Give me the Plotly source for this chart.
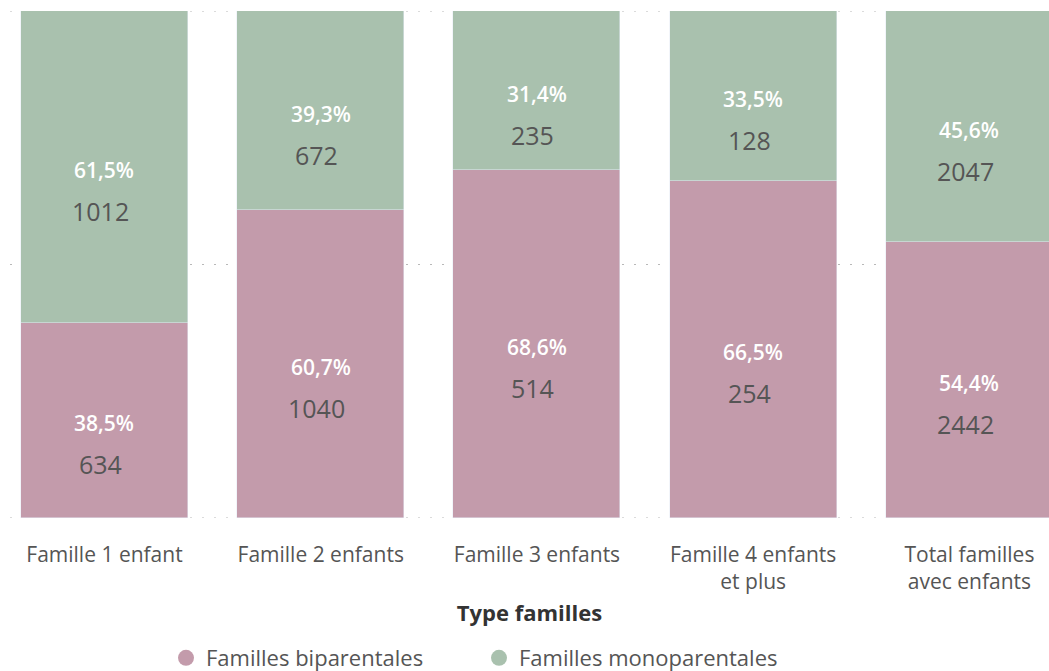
import plotly.graph_objects as go

categories = ["Famille 1 enfant", "Famille 2 enfants", "Famille 3 enfants",
              "Famille 4 enfants<br>et plus", "Total familles<br>avec enfants"]
biparentales = [634, 1040, 514, 254, 2442]
monoparentales = [1012, 672, 235, 128, 2047]
grid_values = [0, 50, 100]

PINK = "#C39BAB"
GREEN = "#A9C1AE"
FONT = "Open Sans, Segoe UI, sans-serif"

x = list(range(len(categories)))
tot = [b + m for b, m in zip(biparentales, monoparentales)]
pb = [100 * b / t for b, t in zip(biparentales, tot)]
pm = [100 * m / t for m, t in zip(monoparentales, tot)]

fig = go.Figure()
fig.add_bar(x=x, y=pb, marker_color=PINK, width=0.772, showlegend=False,
            name="Familles biparentales")
fig.add_bar(x=x, y=pm, marker_color=GREEN, width=0.772, showlegend=False,
            name="Familles monoparentales")
# legend entries with circle markers
fig.add_scatter(x=[None], y=[None], mode="markers", name="Familles biparentales",
                marker=dict(color=PINK, size=17, symbol="circle"))
fig.add_scatter(x=[None], y=[None], mode="markers", name="Familles monoparentales",
                marker=dict(color=GREEN, size=17, symbol="circle"))

# dotted gridlines drawn below the bars
for g in grid_values:
    fig.add_shape(type="line", xref="paper", x0=0, x1=1, yref="y", y0=g, y1=g,
                  layer="below", line=dict(color="#B8B8B8", width=1.2, dash="2px,10px"))

def fmt(p):
    return f"{p:.1f}".replace(".", ",") + "%"

for i in x:
    segs = [(pb[i] / 2, pb[i], biparentales[i]),
            (pb[i] + pm[i] / 2, pm[i], monoparentales[i])]
    for yc, p, n in segs:
        fig.add_annotation(x=i, y=yc, text=fmt(p), showarrow=False, yshift=-3,
                           font=dict(family=FONT, size=21, color="white", weight=600))
        fig.add_annotation(x=i, y=yc, text=str(n), showarrow=False, yshift=-44, xshift=-4,
                           font=dict(family=FONT, size=25, color="#555555"))

fig.update_layout(
    width=1049, height=671,
    margin=dict(l=10, r=0, t=11, b=153, autoexpand=False),
    barmode="stack",
    bargap=0,
    plot_bgcolor="white", paper_bgcolor="white",
    font=dict(family=FONT, color="#555555"),
    legend=dict(orientation="h", xref="container", x=166 / 1049, xanchor="left",
                yref="container", y=13 / 671, yanchor="middle",
                traceorder="normal",
                font=dict(family=FONT, size=22, color="#555555"),
                itemsizing="trace", tracegroupgap=0, itemwidth=30,
                entrywidth=268, entrywidthmode="pixels"),
)
fig.update_xaxes(
    tickmode="array", tickvals=x, ticktext=categories,
    range=[-0.437, 4.368], showgrid=False, zeroline=False, showline=False,
    ticks="", ticklabelstandoff=22, automargin=False,
    tickfont=dict(family=FONT, size=21, color="#555555"),
    title=dict(text="Type familles", standoff=11,
               font=dict(family=FONT, size=22, color="#333333", weight="bold")),
)
fig.update_yaxes(
    range=[0, 100], showticklabels=False, showgrid=False,
    zeroline=False, showline=False, automargin=False,
)

fig.write_html("out.html")
